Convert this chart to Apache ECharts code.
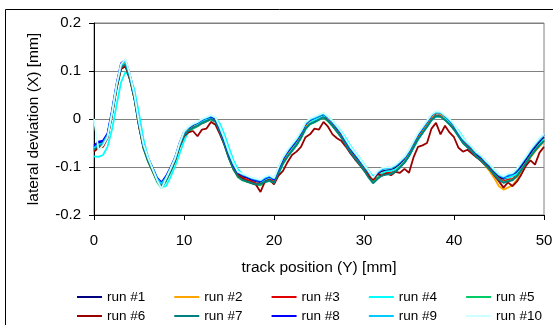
<!DOCTYPE html>
<html>
<head>
<meta charset="utf-8">
<script src="https://cdn.jsdelivr.net/npm/echarts@6/dist/echarts.min.js"></script>
<style>html,body{margin:0;padding:0;background:#fff;}#c{width:553px;height:325px;}</style>
</head>
<body>
<div id="c"></div>
<script>
const trackPos = [0,0.5,1,1.5,2,2.5,3,3.5,4,4.5,5,5.5,6,6.5,7,7.5,8,8.5,9,9.5,10,10.5,11,11.5,12,12.5,13,13.5,14,14.5,15,15.5,16,16.5,17,17.5,18,18.5,19,19.5,20,20.5,21,21.5,22,22.5,23,23.5,24,24.5,25,25.5,26,26.5,27,27.5,28,28.5,29,29.5,30,30.5,31,31.5,32,32.5,33,33.5,34,34.5,35,35.5,36,36.5,37,37.5,38,38.5,39,39.5,40,40.5,41,41.5,42,42.5,43,43.5,44,44.5,45,45.5,46,46.5,47,47.5,48,48.5,49,49.5,50];

const run1 = [-0.058,-0.050,-0.048,-0.033,0.015,0.070,0.113,0.119,0.088,0.046,
-0.010,-0.057,-0.083,-0.104,-0.125,-0.135,-0.122,-0.104,-0.083,-0.053,
-0.030,-0.020,-0.015,-0.010,-0.005,0.000,0.003,-0.002,-0.023,-0.049,
-0.077,-0.099,-0.114,-0.119,-0.123,-0.127,-0.130,-0.132,-0.126,-0.122,
-0.128,-0.106,-0.086,-0.071,-0.060,-0.048,-0.033,-0.014,-0.005,-0.001,
0.004,0.008,0.000,-0.010,-0.022,-0.035,-0.050,-0.065,-0.077,-0.089,
-0.101,-0.114,-0.125,-0.116,-0.109,-0.107,-0.106,-0.102,-0.094,-0.085,
-0.071,-0.053,-0.036,-0.023,-0.010,0.004,0.012,0.010,0.003,-0.006,
-0.017,-0.032,-0.046,-0.055,-0.064,-0.075,-0.082,-0.092,-0.101,-0.112,
-0.121,-0.125,-0.121,-0.119,-0.111,-0.098,-0.085,-0.071,-0.059,-0.048,
-0.038];
const run2 = [-0.062,-0.055,-0.052,-0.036,0.010,0.066,0.109,0.116,0.086,0.043,
-0.014,-0.060,-0.087,-0.107,-0.128,-0.139,-0.126,-0.108,-0.087,-0.056,
-0.034,-0.024,-0.017,-0.011,-0.005,0.000,0.004,-0.001,-0.026,-0.052,
-0.081,-0.104,-0.122,-0.127,-0.126,-0.132,-0.135,-0.134,-0.129,-0.126,
-0.131,-0.110,-0.090,-0.075,-0.063,-0.051,-0.036,-0.017,-0.006,-0.002,
0.004,0.013,0.001,-0.011,-0.023,-0.036,-0.053,-0.068,-0.080,-0.091,
-0.104,-0.117,-0.128,-0.119,-0.112,-0.111,-0.110,-0.105,-0.097,-0.088,
-0.074,-0.056,-0.039,-0.026,-0.012,0.004,0.014,0.010,0.002,-0.008,
-0.019,-0.034,-0.048,-0.058,-0.067,-0.079,-0.087,-0.098,-0.110,-0.124,
-0.140,-0.147,-0.143,-0.138,-0.126,-0.110,-0.095,-0.080,-0.068,-0.057,
-0.047];
const run3 = [-0.066,-0.058,-0.054,-0.038,0.009,0.064,0.106,0.112,0.083,0.042,
-0.014,-0.060,-0.087,-0.108,-0.128,-0.140,-0.127,-0.109,-0.087,-0.057,
-0.034,-0.025,-0.019,-0.015,-0.009,-0.005,0.000,-0.005,-0.027,-0.052,
-0.080,-0.102,-0.117,-0.122,-0.127,-0.130,-0.134,-0.136,-0.130,-0.126,
-0.132,-0.110,-0.091,-0.077,-0.065,-0.053,-0.038,-0.019,-0.010,-0.006,
-0.001,0.004,-0.004,-0.014,-0.026,-0.038,-0.054,-0.069,-0.081,-0.092,
-0.105,-0.118,-0.129,-0.121,-0.114,-0.113,-0.112,-0.107,-0.099,-0.090,
-0.076,-0.058,-0.041,-0.028,-0.015,-0.001,0.007,0.006,-0.001,-0.010,
-0.021,-0.035,-0.049,-0.058,-0.067,-0.078,-0.085,-0.095,-0.104,-0.115,
-0.124,-0.130,-0.126,-0.125,-0.116,-0.103,-0.090,-0.076,-0.065,-0.054,
-0.044];
const run4 = [-0.078,-0.079,-0.075,-0.058,-0.022,0.028,0.076,0.098,0.090,0.060,
0.011,-0.042,-0.079,-0.102,-0.124,-0.142,-0.140,-0.121,-0.099,-0.073,
-0.046,-0.027,-0.018,-0.012,-0.006,-0.001,0.003,0.002,-0.010,-0.033,
-0.060,-0.086,-0.105,-0.115,-0.120,-0.124,-0.128,-0.130,-0.128,-0.123,
-0.124,-0.116,-0.094,-0.077,-0.064,-0.052,-0.039,-0.022,-0.008,-0.002,
0.002,0.006,0.005,-0.004,-0.015,-0.026,-0.040,-0.056,-0.069,-0.081,
-0.094,-0.107,-0.119,-0.120,-0.113,-0.109,-0.108,-0.105,-0.098,-0.089,
-0.077,-0.061,-0.044,-0.029,-0.016,-0.003,0.005,0.004,0.001,-0.006,
-0.013,-0.024,-0.038,-0.050,-0.059,-0.069,-0.078,-0.086,-0.096,-0.106,
-0.116,-0.122,-0.122,-0.119,-0.114,-0.104,-0.091,-0.077,-0.064,-0.053,
-0.042];
const run5 = [-0.064,-0.056,-0.053,-0.037,0.009,0.064,0.105,0.110,0.082,0.041,
-0.016,-0.062,-0.089,-0.109,-0.131,-0.144,-0.130,-0.110,-0.088,-0.058,
-0.036,-0.026,-0.020,-0.015,-0.009,-0.005,-0.001,-0.006,-0.029,-0.055,
-0.083,-0.106,-0.121,-0.128,-0.131,-0.134,-0.137,-0.138,-0.132,-0.129,
-0.134,-0.113,-0.093,-0.079,-0.067,-0.055,-0.040,-0.021,-0.011,-0.007,
-0.002,0.003,-0.005,-0.015,-0.027,-0.039,-0.055,-0.070,-0.082,-0.093,
-0.106,-0.120,-0.132,-0.123,-0.116,-0.115,-0.114,-0.109,-0.100,-0.091,
-0.077,-0.059,-0.042,-0.029,-0.016,-0.002,0.006,0.005,-0.002,-0.011,
-0.022,-0.036,-0.050,-0.059,-0.068,-0.079,-0.086,-0.096,-0.105,-0.116,
-0.126,-0.132,-0.129,-0.127,-0.118,-0.105,-0.092,-0.078,-0.066,-0.055,
-0.045];
const run6 = [-0.068,-0.060,-0.058,-0.040,0.008,0.063,0.104,0.110,0.082,0.042,
-0.015,-0.060,-0.086,-0.107,-0.128,-0.140,-0.127,-0.108,-0.087,-0.058,
-0.036,-0.028,-0.025,-0.036,-0.022,-0.020,-0.006,-0.012,-0.032,-0.054,
-0.081,-0.104,-0.119,-0.124,-0.130,-0.133,-0.137,-0.152,-0.130,-0.126,
-0.136,-0.118,-0.108,-0.090,-0.075,-0.068,-0.058,-0.038,-0.032,-0.020,
-0.022,-0.006,-0.016,-0.032,-0.040,-0.046,-0.058,-0.072,-0.084,-0.095,
-0.107,-0.119,-0.126,-0.115,-0.118,-0.113,-0.117,-0.110,-0.112,-0.104,
-0.112,-0.080,-0.058,-0.055,-0.050,-0.020,-0.008,-0.032,-0.014,-0.028,
-0.038,-0.060,-0.068,-0.064,-0.072,-0.080,-0.087,-0.096,-0.105,-0.118,
-0.130,-0.143,-0.132,-0.140,-0.130,-0.115,-0.097,-0.086,-0.095,-0.070,
-0.058];
const run7 = [-0.063,-0.055,-0.052,-0.036,0.011,0.067,0.108,0.114,0.084,0.043,
-0.013,-0.059,-0.086,-0.106,-0.128,-0.141,-0.128,-0.108,-0.086,-0.056,
-0.034,-0.024,-0.018,-0.014,-0.008,-0.004,0.000,-0.005,-0.028,-0.053,
-0.081,-0.104,-0.120,-0.127,-0.130,-0.133,-0.136,-0.135,-0.131,-0.128,
-0.133,-0.112,-0.092,-0.078,-0.066,-0.054,-0.039,-0.020,-0.010,-0.006,
-0.001,0.004,-0.004,-0.014,-0.026,-0.039,-0.055,-0.070,-0.082,-0.094,
-0.107,-0.122,-0.134,-0.125,-0.118,-0.116,-0.115,-0.110,-0.101,-0.091,
-0.077,-0.059,-0.042,-0.029,-0.016,-0.002,0.006,0.005,-0.002,-0.011,
-0.022,-0.036,-0.050,-0.059,-0.068,-0.079,-0.086,-0.096,-0.106,-0.117,
-0.127,-0.133,-0.130,-0.128,-0.119,-0.106,-0.092,-0.078,-0.066,-0.055,
-0.046];
const run8 = [-0.055,-0.047,-0.045,-0.030,0.018,0.073,0.116,0.123,0.091,0.049,
-0.007,-0.054,-0.081,-0.101,-0.122,-0.132,-0.119,-0.101,-0.080,-0.050,
-0.027,-0.018,-0.012,-0.008,-0.002,0.002,0.005,0.000,-0.021,-0.046,
-0.074,-0.097,-0.112,-0.117,-0.121,-0.125,-0.128,-0.130,-0.124,-0.120,
-0.126,-0.103,-0.083,-0.068,-0.056,-0.044,-0.029,-0.010,-0.002,0.002,
0.006,0.011,0.003,-0.007,-0.019,-0.031,-0.047,-0.062,-0.074,-0.086,
-0.098,-0.111,-0.121,-0.112,-0.104,-0.102,-0.101,-0.097,-0.090,-0.081,
-0.067,-0.049,-0.032,-0.019,-0.006,0.007,0.015,0.013,0.006,-0.003,
-0.014,-0.029,-0.043,-0.052,-0.061,-0.072,-0.079,-0.089,-0.098,-0.109,
-0.118,-0.122,-0.117,-0.115,-0.106,-0.093,-0.080,-0.066,-0.053,-0.042,
-0.032];
const run9 = [-0.060,-0.053,-0.050,-0.034,0.014,0.070,0.112,0.120,0.090,0.048,
-0.008,-0.055,-0.082,-0.102,-0.124,-0.135,-0.122,-0.103,-0.082,-0.052,
-0.028,-0.018,-0.011,-0.007,-0.001,0.003,0.007,0.002,-0.019,-0.043,
-0.071,-0.094,-0.110,-0.116,-0.119,-0.123,-0.126,-0.128,-0.122,-0.118,
-0.124,-0.101,-0.080,-0.066,-0.054,-0.042,-0.027,-0.009,-0.001,0.003,
0.007,0.011,0.004,-0.006,-0.017,-0.029,-0.045,-0.060,-0.072,-0.084,
-0.097,-0.110,-0.121,-0.111,-0.104,-0.103,-0.102,-0.097,-0.089,-0.080,
-0.066,-0.048,-0.031,-0.018,-0.005,0.008,0.014,0.013,0.006,-0.002,
-0.013,-0.028,-0.042,-0.051,-0.060,-0.071,-0.078,-0.088,-0.097,-0.108,
-0.117,-0.121,-0.116,-0.114,-0.105,-0.092,-0.079,-0.065,-0.053,-0.042,
-0.033];
const run10 = [0.000,-0.065,-0.055,-0.038,0.012,0.070,0.114,0.125,0.092,0.050,
-0.006,-0.053,-0.080,-0.104,-0.127,-0.145,-0.124,-0.104,-0.082,-0.051,
-0.026,-0.016,-0.010,-0.006,0.000,0.004,0.008,0.003,-0.017,-0.041,
-0.069,-0.092,-0.110,-0.114,-0.118,-0.122,-0.124,-0.127,-0.120,-0.117,
-0.123,-0.100,-0.079,-0.064,-0.052,-0.040,-0.025,-0.007,0.001,0.005,
0.009,0.013,0.005,-0.004,-0.015,-0.027,-0.043,-0.058,-0.070,-0.082,
-0.095,-0.108,-0.123,-0.109,-0.102,-0.101,-0.100,-0.095,-0.087,-0.078,
-0.064,-0.046,-0.029,-0.016,-0.003,0.010,0.016,0.015,0.008,0.000,
-0.011,-0.026,-0.040,-0.049,-0.058,-0.069,-0.076,-0.086,-0.095,-0.106,
-0.115,-0.119,-0.114,-0.112,-0.103,-0.090,-0.077,-0.063,-0.051,-0.040,
-0.031];

const seriesNames = ['run #1','run #2','run #3','run #4','run #5','run #6','run #7','run #8','run #9','run #10'];
const seriesValues = [run1,run2,run3,run4,run5,run6,run7,run8,run9,run10];
const seriesColors = ['#000080','#FFA500','#E00000','#00FFFF','#00CC66','#990000','#008080','#0000FF','#00CCFF','#CCFFFF'];
const yTickLabels = {'-0.2':'-0.2','-0.1':'-0.1','0':'0','0.1':'0.1','0.2':'0.2'};
const xTickLabels = {'0':'0','10':'10','20':'20','30':'30','40':'40','50':'50'};
const xTitle = 'track position (Y) [mm]';
const yTitle = 'lateral deviation (X) [mm]';

const FONT = '"Liberation Sans", Arial, sans-serif';
const chart = echarts.init(document.getElementById('c'), null, {renderer:'canvas'});

const series = seriesNames.map((n,k)=>({
  name:n, type:'line', showSymbol:false, symbol:'none', animation:false,
  data: trackPos.map((x,i)=>[x, seriesValues[k][i]]),
  lineStyle:{width:1.8, color:seriesColors[k]},
  itemStyle:{color:seriesColors[k]},
  z: 2
}));

function legendRow(names, top){
  return {
    data: names.map(n=>({name:n, icon:'rect'})),
    left: 77, top: top, orient:'horizontal',
    itemWidth: 25, itemHeight: 2, itemGap: 29,
    selectedMode:false, padding:0,
    textStyle:{fontFamily:FONT, fontSize:13.5, color:'#000'}
  };
}

chart.setOption({
  animation:false,
  backgroundColor:'#fff',
  textStyle:{fontFamily:FONT},
  grid:{left:94, right:9, top:23, bottom:110, containLabel:false, outerBoundsMode:'none',
        show:true, borderColor:'#808080', borderWidth:1, backgroundColor:'#fff'},
  xAxis:{type:'value', min:0, max:50, interval:10,
    name:xTitle, nameLocation:'middle', nameGap:45,
    nameTextStyle:{fontFamily:FONT, fontSize:15.5, color:'#000'},
    axisLine:{show:true, onZero:false, lineStyle:{color:'#000', width:1}},
    axisTick:{show:true, inside:false, length:5, lineStyle:{color:'#000'}},
    axisLabel:{fontFamily:FONT, fontSize:15, color:'#000', margin:18,
      formatter:v=>xTickLabels[String(Math.round(v))]},
    splitLine:{show:false}},
  yAxis:{type:'value', min:-0.2, max:0.2, interval:0.1,
    name:yTitle, nameLocation:'middle', nameGap:52, nameRotate:90,
    nameTextStyle:{fontFamily:FONT, fontSize:15.5, color:'#000'},
    axisLine:{show:true, onZero:false, lineStyle:{color:'#000', width:1}},
    axisTick:{show:true, inside:false, length:5, lineStyle:{color:'#000'}},
    axisLabel:{fontFamily:FONT, fontSize:15, color:'#000', margin:13,
      formatter:v=>yTickLabels[String(Math.round(v*10)/10)]},
    splitLine:{show:true, lineStyle:{color:'#808080', width:1}}},
  legend:[legendRow(seriesNames.slice(0,5), 290), legendRow(seriesNames.slice(5,10), 309)],
  graphic:[{type:'rect', shape:{x:5.5, y:9.5, width:560, height:330},
    style:{fill:'none', stroke:'#000', lineWidth:1}, silent:true, z:100}],
  series: series
});
</script>
</body>
</html>
